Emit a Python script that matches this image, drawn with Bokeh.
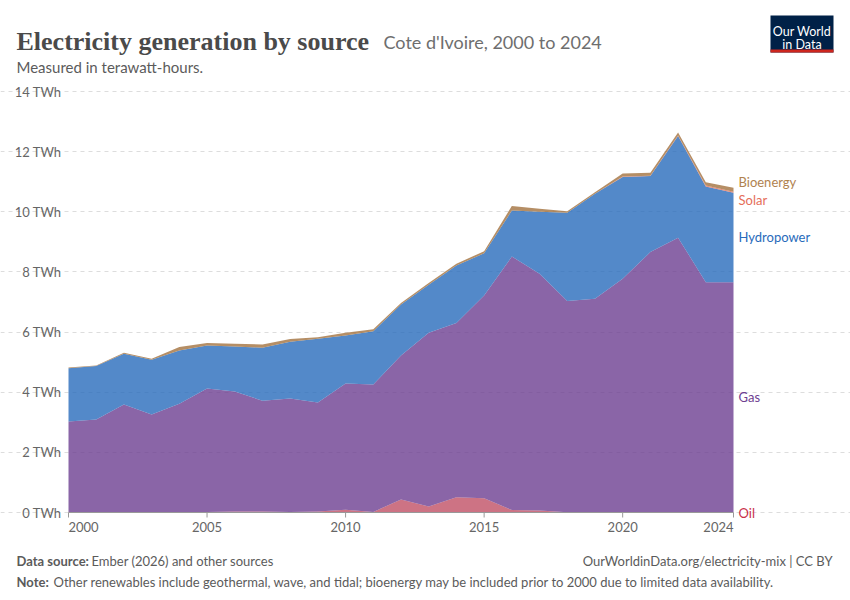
import numpy as np
from bokeh.plotting import figure
from bokeh.models import ColumnDataSource, Label, BoxAnnotation, Range1d, FixedTicker, Grid
from bokeh.embed import file_html
from bokeh.resources import INLINE

# electricity generation, Cote d'Ivoire, TWh
years = list(range(2000, 2025))
oil = [0.02, 0.02, 0.02, 0.02, 0.02, 0.02, 0.03, 0.03, 0.02, 0.03, 0.09, 0.02, 0.43,
       0.20, 0.51, 0.47, 0.08, 0.07, 0.01, 0.0, 0.0, 0.0, 0.0, 0.0, 0.0]
gas = [3.01, 3.07, 3.57, 3.24, 3.60, 4.10, 3.99, 3.69, 3.77, 3.63, 4.20, 4.24, 4.79,
       5.78, 5.79, 6.75, 8.43, 7.87, 7.02, 7.11, 7.77, 8.66, 9.14, 7.66, 7.66]
hydro = [1.77, 1.78, 1.69, 1.82, 1.77, 1.43, 1.50, 1.76, 1.89, 2.12, 1.60, 1.77, 1.70,
         1.59, 1.91, 1.40, 1.53, 2.06, 2.94, 3.49, 3.39, 2.53, 3.38, 3.18, 2.97]
solar = [0, 0, 0, 0, 0, 0, 0, 0, 0, 0, 0, 0, 0,
         0, 0, 0, 0, 0, 0, 0, 0.01, 0.01, 0.02, 0.03, 0.04]
bio = [0.02, 0.02, 0.03, 0.03, 0.11, 0.09, 0.09, 0.11, 0.09, 0.05, 0.09, 0.06, 0.05,
       0.06, 0.06, 0.07, 0.15, 0.10, 0.05, 0.05, 0.10, 0.10, 0.10, 0.11, 0.13]

sources = ["Oil", "Gas", "Hydropower", "Solar", "Bioenergy"]
colors = ["#C15065", "#6D3E91", "#286BBB", "#E56E5A", "#A2723E"]
label_colors = ["#C9304A", "#6D3E91", "#286BBB", "#E56E5A", "#B0824F"]
yticks = [0, 2, 4, 6, 8, 10, 12, 14]
ytick_labels = [f"{t} TWh" for t in yticks]
xticks = [2000, 2005, 2010, 2015, 2020, 2024]
xtick_labels = [str(t) for t in xticks]

src = ColumnDataSource(dict(year=years, Oil=oil, Gas=gas, Hydropower=hydro,
                            Solar=solar, Bioenergy=bio))

W, H = 850, 600
# plot area in page pixels: 2000 -> 68, 2024 -> 733, 0 TWh -> 512, 14 TWh -> 91
PX0, PX1, PY0, PY1 = 68, 733, 512, 91
kx = (PX1 - PX0) / (2024 - 2000)
ky = (PY0 - PY1) / 14
x_range = Range1d(2000 - PX0 / kx, 2024 + (W - PX1) / kx)
y_range = Range1d(-(H - PY0) / ky, 14 + PY1 / ky)

p = figure(width=W, height=H, output_backend="svg", toolbar_location=None,
           x_range=x_range, y_range=y_range, x_axis_location=None, y_axis_location=None,
           min_border=0)
p.outline_line_color = None
p.background_fill_color = "white"
p.border_fill_color = "white"
p.grid.grid_line_color = None

p.add_layout(Grid(dimension=1, ticker=FixedTicker(ticks=yticks), bounds=(2000, 2024),
                  grid_line_color="#dddddd", grid_line_dash="4 4"))

p.varea_stack(stackers=sources, x="year", color=colors, fill_alpha=0.8, source=src)

# axis: baseline, ticks and labels
p.segment(x0=2000, y0=0, x1=2024, y1=0, line_color="#999999", line_width=1)
p.segment(x0=xticks, y0=[0] * len(xticks), x1=xticks, y1=[-5 / ky] * len(xticks),
          line_color="#999999", line_width=1)
p.text(x=xticks, y=[0] * len(xticks), text=xtick_labels, y_offset=9,
       text_align=["left", "center", "center", "center", "center", "right"],
       text_baseline="top", text_font_size="13px", text_color="#666666",
       text_font={"value": "Lato"})
p.text(x=[2000] * len(yticks), y=yticks, text=ytick_labels, x_offset=-7,
       text_align="right", text_baseline="middle", text_font_size="13px",
       text_color="#666666", text_font={"value": "Lato"})

# series labels at the right end
total = np.array(oil) + np.array(gas) + np.array(hydro) + np.array(solar) + np.array(bio)
gas_top = oil[-1] + gas[-1]
hydro_top = gas_top + hydro[-1]
label_y = {"Oil": 0.0, "Gas": gas_top / 2, "Hydropower": (gas_top + hydro_top) / 2,
           "Solar": total[-1] - 0.4, "Bioenergy": total[-1] + 0.2}
for name, c in zip(sources, label_colors):
    p.add_layout(Label(x=2024, y=label_y[name], x_offset=5, text=name,
                       text_font="Lato", text_font_size="13px", text_color=c,
                       text_baseline="middle", text_align="left"))


def sy(py):
    return H - py


def txt(s, px, py, size, color="#5b5b5b", font="Lato", style="normal", align="left"):
    p.add_layout(Label(x=px, y=sy(py), x_units="screen", y_units="screen", text=s,
                       text_font=font, text_font_size=size, text_color=color,
                       text_font_style=style, text_align=align,
                       text_baseline="alphabetic"))


# logo (drawn first so its text sits on top)
p.add_layout(BoxAnnotation(left=770, right=833, top=sy(15), bottom=sy(52),
                           left_units="screen", right_units="screen",
                           top_units="screen", bottom_units="screen",
                           fill_color="#002147", fill_alpha=1, line_color=None, level="underlay"))
p.add_layout(BoxAnnotation(left=770, right=833, top=sy(49), bottom=sy(52),
                           left_units="screen", right_units="screen",
                           top_units="screen", bottom_units="screen",
                           fill_color="#CE261E", fill_alpha=1, line_color=None, level="underlay"))
txt("Our World", 801.5, 31, "12.5px", "white", align="center")
txt("in Data", 801.5, 44, "12.5px", "white", align="center")

txt("Electricity generation by source", 16, 41, "26px", "#4a4a4a", "Liberation Serif", "bold")
txt("Cote d'Ivoire, 2000 to 2024", 383, 41, "18px", "#6e6e6e")
txt("Measured in terawatt-hours.", 16, 66, "15px", "#5b5b5b")
txt("Data source:", 16, 560, "13px", "#5b5b5b", style="bold")
txt("Ember (2026) and other sources", 91, 560, "13px", "#5b5b5b")
txt("OurWorldinData.org/electricity-mix | CC BY", 832, 560, "13px", "#5b5b5b", align="right")
txt("Note:", 16, 581, "13px", "#5b5b5b", style="bold")
txt("Other renewables include geothermal, wave, and tidal; bioenergy may be included prior to 2000 due to limited data availability.",
    53, 581, "13px", "#5b5b5b")

open("out.html", "w").write(file_html(p, INLINE))
